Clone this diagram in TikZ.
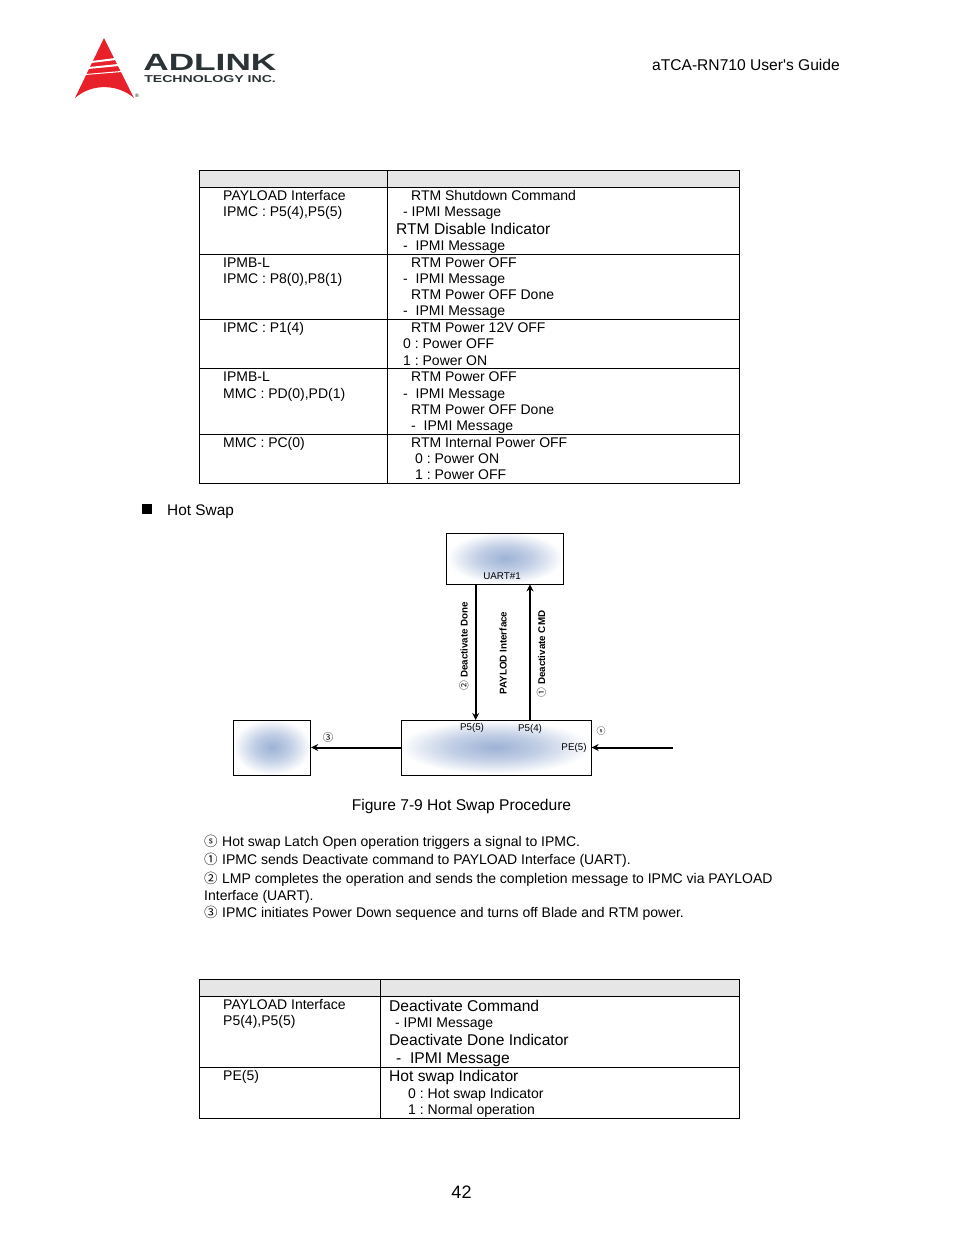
\documentclass[tikz,border=0pt]{standalone}
\usepackage{fontspec}
\setmainfont{Liberation Sans}
\newfontfamily\circfont{Noto Sans CJK JP}
\frenchspacing
\usetikzlibrary{arrows.meta}
\definecolor{headgray}{HTML}{E6E6E6}
\definecolor{blobblue}{HTML}{9DB2D6}
\definecolor{logored}{HTML}{E8202A}
\definecolor{logodark}{HTML}{2B3336}
\pgfdeclareradialshading{blobshade}{\pgfpoint{0bp}{0bp}}{color(0bp)=(blobblue); color(12bp)=(blobblue!62!white); color(25bp)=(white); color(50bp)=(white)}
\newcommand{\circnum}[1]{{\mdseries\circfont #1}}
\newcommand{\noteitem}[1]{\makebox[18pt][l]{\circfont\fontsize{13.5}{16}\selectfont #1}}
\tikzset{
    celltext/.style={anchor=base west, inner sep=0pt, font=\fontsize{14}{16}\selectfont},
    cellbig/.style={anchor=base west, inner sep=0pt, font=\fontsize{15.6}{18}\selectfont},
    notetext/.style={anchor=base west, inner sep=0pt, font=\fontsize{14}{17}\selectfont},
    hwbox/.style={draw, line width=0.8pt, inner sep=0pt},
    smalllabel/.style={inner sep=0pt, font=\fontsize{9.8}{12}\selectfont},
    sidelabel/.style={inner sep=0pt, rotate=90, font=\fontsize{9.8}{12}\selectfont\bfseries},
    flow/.style={line width=2pt, -{Stealth[length=7pt,width=7pt]}},
    rule/.style={line width=0.7pt}
}
\begin{document}
\begin{tikzpicture}[x=1pt,y=-1pt]
    \useasboundingbox (0,0) rectangle (954,1235);
    \fill[white] (0,0) rectangle (954,1235);

    \fill[logored] (104,38) -- (134,98) .. controls (118,84) and (92,83) .. (75,98) -- cycle;
    \fill[white] (92,61) -- (115,58) -- (116,60) -- (91,63) -- cycle;
    \fill[white] (89,67) -- (118,64) -- (119,66) -- (88,69) -- cycle;
    \fill[white] (86,74) -- (121,71) -- (122,72) -- (85,75) -- cycle;
    \node[anchor=center, inner sep=0pt, font=\fontsize{5}{6}\selectfont] (regmark) at (137,95.5) {®};
    \node[anchor=base west, inner sep=0pt, transform shape, xscale=1.5, text=logodark, font=\fontsize{23.5}{24}\selectfont\bfseries] (logoname) at (143,70) {ADLINK};
    \node[anchor=base west, inner sep=0pt, transform shape, xscale=1.41, text=logodark, font=\fontsize{10}{12}\selectfont\bfseries] (logosub) at (144,82) {TECHNOLOGY INC.};
    \node[anchor=base east, inner sep=0pt, font=\fontsize{15.6}{18}\selectfont] (guide) at (840,70) {aTCA-RN710 User\textquotesingle s Guide};

    \fill[headgray] (199,170) rectangle (739.5,187);
    \draw[rule] (199,170) rectangle (739.5,483);
    \draw[rule] (387,170) -- (387,483);
    \draw[rule] (199,187) -- (739.5,187);
    \draw[rule] (199,254) -- (739.5,254);
    \draw[rule] (199,319) -- (739.5,319);
    \draw[rule] (199,368) -- (739.5,368);
    \draw[rule] (199,434) -- (739.5,434);

    \foreach \ypos/\linetext in {200/PAYLOAD Interface, 216/{IPMC : P5(4),P5(5)}, 267/IPMB-L, 283/{IPMC : P8(0),P8(1)}, 332/IPMC : P1(4), 381/IPMB-L, 398/{MMC : PD(0),PD(1)}, 447/MMC : PC(0)}
        \node[celltext] (toprow\ypos) at (223,\ypos) {\linetext};

    \foreach \xpos/\ypos/\linetext in {411/200/RTM Shutdown Command, 403/216/- IPMI Message, 403/250/-\ \ IPMI Message, 411/267/RTM Power OFF, 403/283/-\ \ IPMI Message, 411/299/RTM Power OFF Done, 403/315/-\ \ IPMI Message, 411/332/RTM Power 12V OFF, 403/348/0 : Power OFF, 403/365/1 : Power ON, 411/381/RTM Power OFF, 403/398/-\ \ IPMI Message, 411/414/RTM Power OFF Done, 411/430/-\ \ IPMI Message, 411/447/RTM Internal Power OFF, 415/463/0 : Power ON, 415/479/1 : Power OFF}
        \node[celltext] (topcell\ypos) at (\xpos,\ypos) {\linetext};
    \node[cellbig] (disableline) at (396,234) {RTM Disable Indicator};

    \fill (142,504) rectangle (152,514);
    \node[anchor=base west, inner sep=0pt, font=\fontsize{15.4}{18}\selectfont] (hotswap) at (167,515) {Hot Swap};

    \shade[shading=blobshade] (505,558) ellipse (58 and 26);
    \shade[shading=blobshade] (272,747) ellipse (39 and 28);
    \shade[shading=blobshade] (495,747) ellipse (96 and 27);
    \node[hwbox, minimum width=117pt, minimum height=51pt] (uartbox) at (505,558.5) {};
    \node[hwbox, minimum width=189.5pt, minimum height=55pt] (mainbox) at (496.5,747.5) {};
    \node[hwbox, minimum width=77.5pt, minimum height=55pt] (rtmbox) at (272,747.5) {};

    \coordinate (doneport) at (475.7,720);
    \coordinate (cmdport) at (530,720);
    \coordinate (latchend) at (673,747.5);
    \draw[flow] (uartbox.south -| doneport) -- (doneport);
    \draw[flow] (cmdport) -- (uartbox.south -| cmdport);
    \draw[flow] (mainbox.west) -- (rtmbox.east);
    \draw[flow] (latchend) -- (mainbox.east);

    \node[smalllabel] (uartlabel) at (502,576) {UART\#1};
    \node[smalllabel] (p55label) at (472,727.5) {P5(5)};
    \node[smalllabel] (p54label) at (530,728.5) {P5(4)};
    \node[smalllabel] (pe5label) at (574,748) {PE(5)};
    \node[sidelabel] (donelabel) at (464,646) {\circnum{②} Deactivate Done};
    \node[sidelabel] (payloadlabel) at (503,653) {PAYLOD Interface};
    \node[sidelabel] (cmdlabel) at (541.5,654) {\circnum{①} Deactivate CMD};
    \node[inner sep=0pt, font=\fontsize{10.5}{12}\selectfont] (threelabel) at (328,737.5) {\circnum{③}};
    \node[inner sep=0pt, font=\fontsize{9}{10}\selectfont] (slabel) at (601,731.5) {\circnum{ⓢ}};

    \node[anchor=base, inner sep=0pt, font=\fontsize{15.6}{18}\selectfont] (caption) at (461.5,810) {Figure 7-9 Hot Swap Procedure};

    \foreach \ypos/\linetext in {846/\noteitem{ⓢ}Hot swap Latch Open operation triggers a signal to IPMC., 864/\noteitem{①}IPMC sends Deactivate command to PAYLOAD Interface (UART)., 883/\noteitem{②}LMP completes the operation and sends the completion message to IPMC via PAYLOAD, 900/Interface (UART)., 917/\noteitem{③}IPMC initiates Power Down sequence and turns off Blade and RTM power.}
        \node[notetext] (note\ypos) at (204,\ypos) {\linetext};

    \fill[headgray] (199,979) rectangle (739.5,996);
    \draw[rule] (199,979) rectangle (739.5,1118);
    \draw[rule] (380,979) -- (380,1118);
    \draw[rule] (199,996) -- (739.5,996);
    \draw[rule] (199,1067) -- (739.5,1067);

    \foreach \ypos/\linetext in {1009/PAYLOAD Interface, 1025/{P5(4),P5(5)}, 1080/PE(5)}
        \node[celltext] (lowrow\ypos) at (223,\ypos) {\linetext};
    \foreach \xpos/\ypos/\linetext in {395/1027/- IPMI Message, 408/1098/0 : Hot swap Indicator, 408/1114/1 : Normal operation}
        \node[celltext] (lowcell\ypos) at (\xpos,\ypos) {\linetext};
    \foreach \xpos/\ypos/\linetext in {389/1011/Deactivate Command, 389/1045/Deactivate Done Indicator, 396/1063/-\ \ IPMI Message, 389/1081/Hot swap Indicator}
        \node[cellbig] (lowbig\ypos) at (\xpos,\ypos) {\linetext};

    \node[anchor=base, inner sep=0pt, font=\fontsize{18}{20}\selectfont] (pagenum) at (461.5,1198) {42};
\end{tikzpicture}
\end{document}
